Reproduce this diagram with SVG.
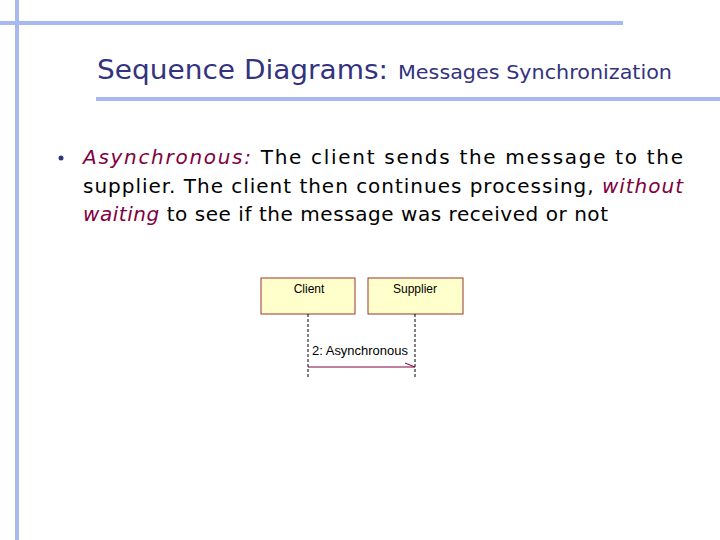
<svg xmlns="http://www.w3.org/2000/svg" width="720" height="540" viewBox="0 0 720 540">
<style>
.t{font-family:"DejaVu Sans",Verdana,sans-serif;fill:#333380}
.b{font-family:"DejaVu Sans",Verdana,sans-serif;font-size:20px;fill:#000}
.i{font-style:italic;fill:#800040}
.n{fill:#ffffcc;stroke:#993333;stroke-width:1}
.l{font-family:"Liberation Sans",Arial,sans-serif;font-size:12px;fill:#000}
.ll{stroke:#000;stroke-dasharray:3,2}
</style>
<rect width="720" height="540" fill="#fff"/>
<rect x="15" y="0" width="4" height="540" fill="#a8b8f0"/>
<rect x="0" y="21" width="623" height="4" fill="#a8b8f0"/>
<rect x="96" y="97" width="624" height="4" fill="#a8b8f0"/>
<text class="t" x="97" y="79" font-size="26" textLength="291" lengthAdjust="spacingAndGlyphs">Sequence Diagrams:</text>
<text class="t" x="398" y="79" font-size="20" textLength="274" lengthAdjust="spacingAndGlyphs">Messages Synchronization</text>
<circle cx="61" cy="158" r="2.5" fill="#333380"/>
<text class="b" x="83" y="164" textLength="600" lengthAdjust="spacing"><tspan class="i">Asynchronous:</tspan> The client sends the message to the</text>
<text class="b" x="83" y="193" textLength="600" lengthAdjust="spacing">supplier. The client then continues processing, <tspan class="i">without</tspan></text>
<text class="b" x="83" y="221" textLength="525" lengthAdjust="spacing"><tspan class="i">waiting</tspan> to see if the message was received or not</text>
<g id="client"><rect class="n" x="261" y="278" width="94" height="36"/><text class="l" x="309" y="293" text-anchor="middle">Client</text></g>
<g id="supplier"><rect class="n" x="368" y="278" width="95" height="36"/><text class="l" x="415" y="293" text-anchor="middle">Supplier</text></g>
<g id="connectors">
<line class="ll" x1="308" y1="314" x2="308" y2="378"/>
<line class="ll" x1="415" y1="314" x2="415" y2="378"/>
<line x1="308" y1="367" x2="415" y2="367" stroke="#800040"/>
<line x1="405" y1="363" x2="415" y2="367" stroke="#800040"/>
<text class="l" x="312" y="355" textLength="96" lengthAdjust="spacingAndGlyphs">2: Asynchronous</text>
</g>
</svg>
